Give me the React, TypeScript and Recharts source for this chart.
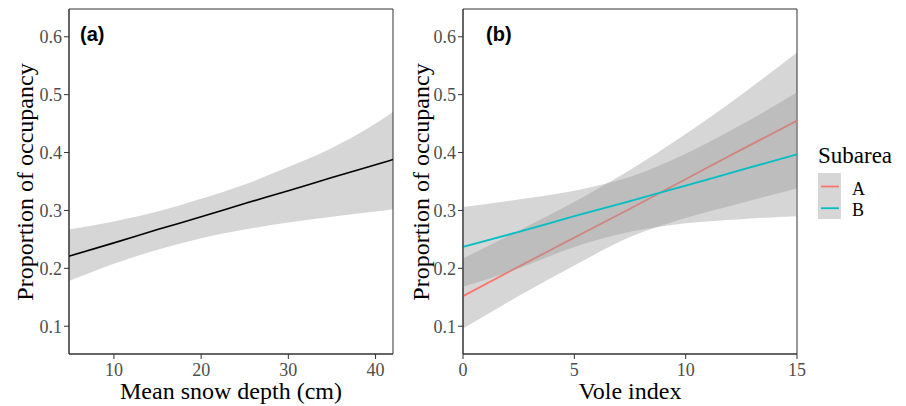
import React from 'react';
import { ComposedChart, Area, Line, XAxis, YAxis, ReferenceArea, Legend, Label } from 'recharts';

// Panel (a): mean snow depth
const snowDepth = [4.85, 10, 15, 20, 25, 30, 35, 40, 42];
const snowFit = [0.221, 0.244, 0.267, 0.289, 0.312, 0.334, 0.357, 0.379, 0.388];
const snowLow = [0.178, 0.208, 0.232, 0.252, 0.267, 0.279, 0.289, 0.298, 0.302];
const snowHigh = [0.267, 0.281, 0.298, 0.32, 0.345, 0.375, 0.408, 0.45, 0.47];

// Panel (b): vole index, subareas A and B
const voleIndex = [0, 2.5, 5, 7.5, 10, 12.5, 15];
const fitA = [0.152, 0.203, 0.253, 0.303, 0.354, 0.405, 0.455];
const lowA = [0.096, 0.152, 0.205, 0.254, 0.287, 0.313, 0.338];
const highA = [0.217, 0.265, 0.315, 0.37, 0.432, 0.5, 0.573];
const fitB = [0.237, 0.263, 0.29, 0.316, 0.343, 0.37, 0.397];
const lowB = [0.168, 0.2, 0.237, 0.263, 0.278, 0.285, 0.29];
const highB = [0.306, 0.319, 0.334, 0.358, 0.398, 0.448, 0.504];

const subareas = ['A', 'B'];
const subareaColors = ['#F8766D', '#00BFC4'];

const yTicks = [0.1, 0.2, 0.3, 0.4, 0.5, 0.6];
const yDomain = [0.052, 0.648];
const snowTicks = [10, 20, 30, 40];
const snowDomain = [4.85, 42];
const voleTicks = [0, 5, 10, 15];
const voleDomain = [0, 15];

const snowData = snowDepth.map((x, i) => ({ x, fit: snowFit[i], band: [snowLow[i], snowHigh[i]] }));
const voleData = voleIndex.map((x, i) => ({
  x,
  fitA: fitA[i],
  bandA: [lowA[i], highA[i]],
  fitB: fitB[i],
  bandB: [lowB[i], highB[i]],
}));

const SERIF = '"Liberation Serif", "Times New Roman", serif';
const SANS = '"Liberation Sans", Arial, sans-serif';
const tickStyle = { fontSize: 18, fill: '#4D4D4D', fontFamily: SERIF };
const axisStroke = '#333333';

const yLabel = (cx: number, cy: number) => () => (
  <text
    x={cx}
    y={cy}
    transform={`rotate(-90, ${cx}, ${cy})`}
    textAnchor="middle"
    dominantBaseline="central"
    style={{ fontSize: 24, fontFamily: SERIF, fill: '#000' }}
  >
    Proportion of occupancy
  </text>
);

const xLabel = (text: string, cx: number, y: number) => () => (
  <text x={cx} y={y} textAnchor="middle" style={{ fontSize: 24, fontFamily: SERIF, fill: '#000' }}>
    {text}
  </text>
);

const LegendContent = (props: any) => {
  const payload = (props.payload || []).filter((p: any) => subareas.includes(p.value));
  return (
    <svg width={90} height={90} style={{ display: 'block' }}>
      <text x={2} y={27} style={{ fontSize: 23, fontFamily: SERIF, fill: '#000' }}>
        Subarea
      </text>
      <rect x={2} y={37} width={23} height={46} fill="#D6D6D6" />
      {payload.map((p: any, i: number) => (
        <g key={p.value}>
          <line x1={5} x2={23} y1={50.5 + i * 21.7} y2={50.5 + i * 21.7} stroke={p.color} strokeWidth={1.8} />
          <text x={36} y={58.5 + i * 21.7} style={{ fontSize: 18, fontFamily: SERIF, fill: '#000' }}>
            {p.value}
          </text>
        </g>
      ))}
    </svg>
  );
};

const panelLabelStyle: React.CSSProperties = {
  position: 'absolute',
  fontFamily: SANS,
  fontWeight: 'bold',
  fontSize: 20,
  lineHeight: '20px',
  color: '#000',
};

export default function App() {
  return (
    <div style={{ position: 'absolute', left: 0, top: 0, width: 906, height: 406, background: '#fff' }}>
      <div style={{ position: 'absolute', left: 0, top: 0 }}>
        <ComposedChart width={400} height={406} data={snowData} margin={{ top: 9, right: 7, bottom: 0, left: 10 }}>
          <XAxis
            dataKey="x"
            type="number"
            domain={snowDomain}
            ticks={snowTicks}
            allowDataOverflow
            height={52}
            tickSize={5}
            tickMargin={4}
            tick={tickStyle}
            stroke={axisStroke}
            axisLine={{ stroke: axisStroke }}
            tickLine={{ stroke: axisStroke }}
          >
            <Label content={xLabel('Mean snow depth (cm)', 231, 399)} />
          </XAxis>
          <YAxis
            type="number"
            domain={yDomain}
            ticks={yTicks}
            allowDataOverflow
            width={59}
            tickSize={5}
            tick={tickStyle}
            tickFormatter={(v: number) => v.toFixed(1)}
            axisLine={{ stroke: axisStroke }}
            tickLine={{ stroke: axisStroke }}
          >
            <Label content={yLabel(25, 182)} />
          </YAxis>
          <Area
            dataKey="band"
            type="monotone"
            stroke="none"
            fill="#999999"
            fillOpacity={0.4}
            isAnimationActive={false}
            legendType="none"
            activeDot={false}
          />
          <Line
            dataKey="fit"
            type="monotone"
            stroke="#000"
            strokeWidth={1.6}
            dot={false}
            activeDot={false}
            isAnimationActive={false}
          />
          <ReferenceArea
            x1={snowDomain[0]}
            x2={snowDomain[1]}
            y1={yDomain[0]}
            y2={yDomain[1]}
            fill="none"
            stroke={axisStroke}
            strokeWidth={1}
            fillOpacity={0}
            ifOverflow="extendDomain"
          />
        </ComposedChart>
      </div>
      <div style={{ position: 'absolute', left: 400, top: 0 }}>
        <ComposedChart width={506} height={406} data={voleData} margin={{ top: 9, right: 109, bottom: 0, left: 4 }}>
          <XAxis
            dataKey="x"
            type="number"
            domain={voleDomain}
            ticks={voleTicks}
            allowDataOverflow
            height={52}
            tickSize={5}
            tickMargin={4}
            tick={tickStyle}
            axisLine={{ stroke: axisStroke }}
            tickLine={{ stroke: axisStroke }}
          >
            <Label content={xLabel('Vole index', 230, 399)} />
          </XAxis>
          <YAxis
            type="number"
            domain={yDomain}
            ticks={yTicks}
            allowDataOverflow
            width={59}
            tickSize={5}
            tick={tickStyle}
            tickFormatter={(v: number) => v.toFixed(1)}
            axisLine={{ stroke: axisStroke }}
            tickLine={{ stroke: axisStroke }}
          >
            <Label content={yLabel(21, 182)} />
          </YAxis>
          <Area
            dataKey="bandA"
            type="monotone"
            stroke="none"
            fill="#999999"
            fillOpacity={0.4}
            isAnimationActive={false}
            legendType="none"
            activeDot={false}
            zIndex={100}
          />
          <Line
            dataKey="fitA"
            name={subareas[0]}
            type="monotone"
            stroke={subareaColors[0]}
            strokeWidth={1.8}
            dot={false}
            activeDot={false}
            isAnimationActive={false}
            zIndex={101}
          />
          <Area
            dataKey="bandB"
            type="monotone"
            stroke="none"
            fill="#999999"
            fillOpacity={0.4}
            isAnimationActive={false}
            legendType="none"
            activeDot={false}
            zIndex={102}
          />
          <Line
            dataKey="fitB"
            name={subareas[1]}
            type="monotone"
            stroke={subareaColors[1]}
            strokeWidth={1.8}
            dot={false}
            activeDot={false}
            isAnimationActive={false}
            zIndex={103}
          />
          <ReferenceArea
            x1={voleDomain[0]}
            x2={voleDomain[1]}
            y1={yDomain[0]}
            y2={yDomain[1]}
            fill="none"
            stroke={axisStroke}
            strokeWidth={1}
            fillOpacity={0}
          />
          <Legend
            layout="vertical"
            align="center"
            verticalAlign="middle"
            content={LegendContent}
            wrapperStyle={{ left: 416, top: 136, width: 90, height: 90 }}
          />
        </ComposedChart>
      </div>
      <div style={{ ...panelLabelStyle, left: 80, top: 24 }}>(a)</div>
      <div style={{ ...panelLabelStyle, left: 486, top: 24 }}>(b)</div>
    </div>
  );
}
